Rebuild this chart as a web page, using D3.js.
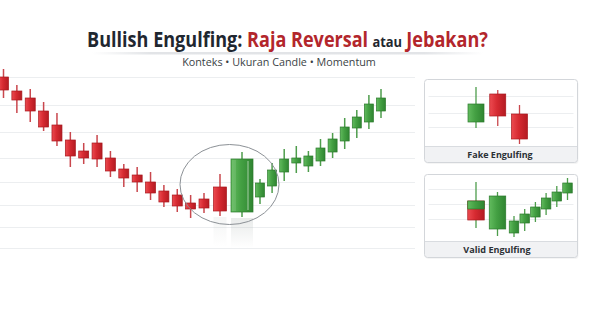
<!DOCTYPE html>
<html><head><meta charset="utf-8">
<script src="https://cdn.jsdelivr.net/npm/d3@7"></script>
<style>
html,body{margin:0;padding:0;background:#fff;}
svg{display:block;}
</style></head><body>
<svg id="chart" width="602" height="330"></svg>
<script>
// Main trend: one OHLC value per session
const mainOpen  = [223,209,202,189,175,160,149,157,142,131,125,118,109,105,97,101,113,88,103,114,128,137,134,139,148,159,172,178,189];
const mainHigh  = [231,215,211,198,187,168,157,165,149,136,133,128,115,111,105,107,126,148,121,137,151,154,149,161,167,182,190,205,211];
const mainLow   = [202,187,178,169,154,133,136,133,123,113,108,100,93,88,82,87,84,83,96,107,119,127,128,134,142,151,162,171,182];
const mainClose = [210,200,189,173,159,144,142,141,129,122,118,107,98,94,91,92,89,141,117,130,141,142,144,152,161,173,183,196,202];
const mainGrid  = [223,195,168,142,118,95,73,52];
const signalIdx = 16, engulfIdx = 17;

// "Fake Engulfing" card
const fakeOpen  = [24,52,32];
const fakeHigh  = [59,56,41];
const fakeLow   = [18,20,2];
const fakeClose = [42,30,7];
const fakeGrid  = [50,33,19];

// "Valid Engulfing" card (first candle carries a bullish cap down to validCap)
const validOpen  = [40,12,8,18,24,32,40,48];
const validHigh  = [59,49,25,32,39,48,55,63];
const validLow   = [13,5,4,10,19,26,34,41];
const validClose = [21,45,20,27,34,43,49,58];
const validCap   = [32,null,null,null,null,null,null,null];
const validGrid  = [52,37,22];

const titleParts = [
  {t:"Bullish Engulfing: ", c:"#1f2730", s:21, dx:0},
  {t:"Raja Reversal", c:"#b3262c", s:21, dx:0},
  {t:"atau", c:"#1f2730", s:15, dx:5},
  {t:"Jebakan?", c:"#b3262c", s:21, dx:5}
];
const subtitle = "Konteks \u2022 Ukuran Candle \u2022 Momentum";
const cardLabels = ["Fake Engulfing","Valid Engulfing"];

const zip = (o,h,l,c,extra) => o.map((v,i)=>({i, o:v, h:h[i], l:l[i], c:c[i], cap: extra ? extra[i] : null}));
const mainData  = zip(mainOpen, mainHigh, mainLow, mainClose);
const fakeData  = zip(fakeOpen, fakeHigh, fakeLow, fakeClose);
const validData = zip(validOpen, validHigh, validLow, validClose, validCap);

const svg = d3.select("#chart");
const defs = svg.append("defs");

function hGrad(id, stops){
  const g = defs.append("linearGradient").attr("id", id).attr("x1","0").attr("x2","1").attr("y1","0").attr("y2","0");
  stops.forEach(([o,c,a]) => g.append("stop").attr("offset", o).attr("stop-color", c).attr("stop-opacity", a==null?1:a));
}
hGrad("bear", [[0,"#ec4a50"],[0.45,"#d62a31"],[1,"#b41b22"]]);
hGrad("bull", [[0,"#62bb5e"],[0.45,"#44a043"],[1,"#2f8531"]]);
hGrad("rule", [[0,"#e2e4e7",0],[0.15,"#e2e4e7",1],[0.85,"#e2e4e7",1],[1,"#e2e4e7",0]]);
const vg = defs.append("linearGradient").attr("id","reflect").attr("x1","0").attr("x2","0").attr("y1","0").attr("y2","1");
vg.append("stop").attr("offset",0).attr("stop-color","#9aa3a0").attr("stop-opacity",0.22);
vg.append("stop").attr("offset",1).attr("stop-color","#9aa3a0").attr("stop-opacity",0);

// ---- main chart scales ----
// session slots: the signal pair gets extra room
const xMain = d3.scaleLinear().domain([0,15,16,17,18,28]).range([3.5,204,220,242,260,381]);
const xPos = i => xMain(i);
const yMain = d3.scaleLinear().domain([40,240]).range([260,60]);

// grid
svg.append("g").selectAll("line").data(mainGrid).join("line")
  .attr("x1",0).attr("x2",415)
  .attr("y1",d=>Math.round(yMain(d))+0.5).attr("y2",d=>Math.round(yMain(d))+0.5)
  .attr("stroke","#eceef0").attr("stroke-width",1);

function bodyWidthMain(i){
  if (i === engulfIdx) return 22;
  if (i === signalIdx) return 13;
  return i < signalIdx ? 10 : 9;
}

function drawCandles(g, data, xf, y, wf, wickW){
  const bull = d => d.c >= d.o;
  g.selectAll("line.wick").data(data).join("line").attr("class","wick")
    .attr("x1", d=>xf(d.i)).attr("x2", d=>xf(d.i))
    .attr("y1", d=>y(d.h)).attr("y2", d=>y(d.l))
    .attr("stroke", d=> bull(d) || d.cap!=null ? "#4e9d4c" : "#c9474d")
    .attr("stroke-width", wickW);
  g.selectAll("rect.body").data(data).join("rect").attr("class","body")
    .attr("x", d=>xf(d.i)-wf(d.i)/2).attr("width", d=>wf(d.i))
    .attr("y", d=>y(Math.max(d.o,d.c))).attr("height", d=>Math.max(1.5, Math.abs(y(d.o)-y(d.c))))
    .attr("fill", d=> bull(d) ? "url(#bull)" : "url(#bear)")
    .attr("stroke", d=> bull(d) ? "#2b7a2c" : "#a8171d")
    .attr("stroke-width", 0.7);
  const capped = data.filter(d=>d.cap!=null);
  g.selectAll("rect.cap").data(capped).join("rect").attr("class","cap")
    .attr("x", d=>xf(d.i)-wf(d.i)/2).attr("width", d=>wf(d.i))
    .attr("y", d=>y(Math.max(d.o,d.c))).attr("height", d=>Math.abs(y(d.cap)-y(Math.max(d.o,d.c))))
    .attr("fill","url(#bull)").attr("stroke","#2b7a2c").attr("stroke-width",0.7);
}

const gMain = svg.append("g");
// soft reflections below the signal pair
[signalIdx, engulfIdx].forEach(i=>{
  const d = mainData[i], w = bodyWidthMain(i);
  gMain.append("rect").attr("x", xPos(i)-w/2).attr("width", w)
    .attr("y", yMain(d.l)+1).attr("height", 30)
    .attr("fill","url(#reflect)").attr("opacity", i===engulfIdx?1:0.5);
});
drawCandles(gMain, mainData, xPos, yMain, bodyWidthMain, 1.5);

// highlight stripe on the engulfing body
{
  const d = mainData[engulfIdx], w = bodyWidthMain(engulfIdx);
  gMain.append("rect").attr("x", xPos(engulfIdx)+w/2-6).attr("width", 2)
    .attr("y", yMain(d.c)+2).attr("height", Math.abs(yMain(d.c)-yMain(d.o))-4)
    .attr("fill","#ffffff").attr("opacity",0.28);
  gMain.append("rect").attr("x", xPos(engulfIdx)-w/2+1).attr("width", 4)
    .attr("y", yMain(d.c)+1).attr("height", Math.abs(yMain(d.c)-yMain(d.o))-2)
    .attr("fill","#ffffff").attr("opacity",0.1);
}

// annotation ellipse around the pattern
{
  const cx = (xPos(signalIdx-1)+xPos(engulfIdx+1))/2 - 2.5;
  const lo = d3.min([mainData[signalIdx].l, mainData[engulfIdx].l]);
  const hi = d3.max([mainData[signalIdx].h, mainData[engulfIdx].h]);
  const cy = yMain((lo+hi)/2);
  svg.append("ellipse").attr("cx", cx).attr("cy", cy).attr("rx", 49.5).attr("ry", 40)
    .attr("fill","none").attr("stroke","#8c9196").attr("stroke-width",1);
}

// ---- title ----
function fitText(sel, targetWidth){
  const w = sel.node().getBBox().width;
  return targetWidth / w;
}
{
  const t = svg.append("text").attr("text-anchor","middle")
    .attr("font-family","'Open Sans', 'Noto Sans', sans-serif").attr("font-weight",700);
  titleParts.forEach(p => t.append("tspan").text(p.t).attr("fill", p.c).attr("font-size", p.s).attr("dx", p.dx));
  const sx = fitText(t, 401);
  t.attr("transform", `translate(287.5,46.5) scale(${sx},1)`);

  svg.append("rect").attr("x",92).attr("y",52).attr("width",391).attr("height",2.5).attr("fill","url(#rule)");

  const s = svg.append("text").attr("text-anchor","middle")
    .attr("font-family","'Open Sans', 'Noto Sans', sans-serif").attr("font-size",10).attr("font-weight",500)
    .attr("fill","#3a3f45").text(subtitle);
  const ss = fitText(s, 194);
  s.attr("transform", `translate(279,65.5) scale(${ss},1)`);
}

// ---- cards ----
function card(box, label, labelCx, data, xf, y, wf, grid){
  const g = svg.append("g");
  g.append("rect").attr("x",box.x+1).attr("y",box.y+1.5).attr("width",box.w).attr("height",box.h)
    .attr("rx",3).attr("fill","#000").attr("opacity",0.04);
  g.append("rect").attr("x",box.x).attr("y",box.y).attr("width",box.w).attr("height",box.h)
    .attr("rx",3).attr("fill","#fff");
  g.append("path").attr("d", `M${box.x},${box.foot} H${box.x+box.w} V${box.y+box.h-3} Q${box.x+box.w},${box.y+box.h} ${box.x+box.w-3},${box.y+box.h} H${box.x+3} Q${box.x},${box.y+box.h} ${box.x},${box.y+box.h-3} Z`)
    .attr("fill","#f1f2f4");
  g.append("line").attr("x1",box.x).attr("x2",box.x+box.w).attr("y1",box.foot).attr("y2",box.foot)
    .attr("stroke","#d9dce0");
  g.selectAll("line.grid").data(grid).join("line").attr("class","grid")
    .attr("x1",box.x+4).attr("x2",box.x+box.w-4)
    .attr("y1",d=>Math.round(y(d))+0.5).attr("y2",d=>Math.round(y(d))+0.5)
    .attr("stroke","#eceef0");
  const gc = g.append("g");
  drawCandles(gc, data, xf, y, wf, 1.3);
  g.append("rect").attr("x",box.x).attr("y",box.y).attr("width",box.w).attr("height",box.h)
    .attr("rx",3).attr("fill","none").attr("stroke","#d3d6da");
  const t = g.append("text").attr("text-anchor","middle")
    .attr("font-family","'Open Sans', 'Noto Sans', sans-serif").attr("font-size",9.5).attr("font-weight",700)
    .attr("fill","#2c3136").text(label);
  const sx = fitText(t, label.length > 14 ? 68 : 66);
  t.attr("transform", `translate(${labelCx},${box.foot+11.5}) scale(${sx},1)`);
}

const yFake  = d3.scaleLinear().domain([0,66]).range([146,80]);
const xFake  = d3.scaleLinear().domain([0,2]).range([476,519.5]);
card({x:424.5,y:79.5,w:153,h:83,foot:146.5}, cardLabels[0], 500, fakeData, xFake, yFake, i=>16, fakeGrid);

const yValid = d3.scaleLinear().domain([0,66]).range([241,175]);
const xValid = d3.scaleLinear().domain([0,1,2,7]).range([476,497.5,514,567.5]);
card({x:424.5,y:174.5,w:153,h:83,foot:241.5}, cardLabels[1], 497, validData, xValid, yValid, i=> i<2 ? 16.5 : 9.5, validGrid);
</script>
</body></html>
